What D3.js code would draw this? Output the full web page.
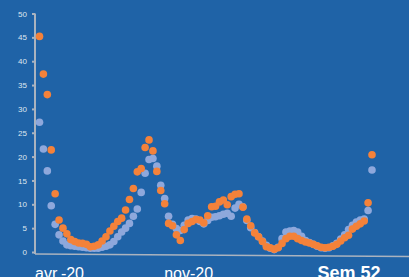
<!DOCTYPE html>
<html>
<head>
<meta charset="utf-8">
<script src="https://cdn.jsdelivr.net/npm/d3@7"></script>
<style>
  html, body { margin: 0; padding: 0; background: #1f63a7; overflow: hidden; }
  svg { display: block; font-family: "Liberation Sans", Arial, sans-serif; }
</style>
</head>
<body>
<div id="chart"></div>
<script>
// weekly values, one point per week
var orangeValues = [45.2, 37.3, 33.0, 21.4, 12.2, 6.7, 5.0, 3.8, 2.6, 2.2,
  1.9, 1.8, 1.6, 1.1, 1.2, 1.5, 2.3, 3.2, 4.4, 5.4,
  6.4, 7.1, 8.8, 11.0, 13.3, 16.8, 17.5, 21.9, 23.5, 21.2,
  16.9, 12.9, 10.1, 6.0, 5.5, 3.6, 2.4, 4.7, 6.0, 6.4,
  6.8, 6.7, 6.1, 7.6, 9.5, 9.6, 10.5, 10.9, 9.9, 11.6,
  12.1, 12.2, 9.4, 6.9, 5.5, 4.0, 3.2, 2.2, 1.1, 0.9,
  0.6, 0.9, 1.8, 2.8, 3.3, 3.3, 2.8, 2.4, 2.1, 1.9,
  1.6, 1.3, 1.0, 0.9, 1.0, 1.2, 1.6, 2.3, 3.0, 3.5,
  4.8, 5.4, 5.9, 6.5, 10.3, 20.4];

var blueValues = [27.2, 21.6, 17.0, 9.7, 5.8, 3.6, 2.3, 1.5, 1.3, 1.2,
  1.1, 1.0, 0.9, 0.8, 0.8, 0.8, 1.0, 1.2, 1.5, 2.2,
  3.2, 4.2, 5.0, 6.0, 7.5, 9.0, 12.5, 16.5, 19.4, 19.6,
  18.0, 14.0, 11.2, 7.5, 5.8, 4.9, 4.5, 5.6, 6.7, 7.0,
  6.9, 6.4, 5.9, 6.6, 7.3, 7.4, 7.6, 7.9, 8.1, 7.5,
  9.2, 10.0, 9.5, 6.6, 5.1, 4.1, 3.2, 2.3, 1.4, 0.8,
  0.5, 1.0, 2.8, 4.2, 4.4, 4.5, 4.2, 3.3, 2.4, 2.0,
  1.6, 1.2, 0.9, 0.8, 0.9, 1.3, 1.8, 2.7, 3.6, 4.7,
  5.6, 6.3, 6.7, 6.9, 8.7, 17.2];

var yTicks = [0, 5, 10, 15, 20, 25, 30, 35, 40, 45, 50];
var xTicks = [5, 38, 79];
var xLabels = ["avr.-20", "nov-20", "Sem 52"];

var width = 409;
var height = 277;

var svg = d3.select("#chart")
  .append("svg")
  .attr("width", width)
  .attr("height", height);

svg.append("rect")
  .attr("width", width)
  .attr("height", height)
  .attr("fill", "#1f63a7");

var xScale = d3.scaleLinear()
  .domain([0, orangeValues.length - 1])
  .range([39.5, 372]);

var yScale = d3.scaleLinear()
  .domain([0, 50])
  .range([252, 13.5]);

// y axis
var yAxis = d3.axisLeft(yScale)
  .tickValues(yTicks)
  .tickSize(3)
  .tickPadding(5);

var gy = svg.append("g")
  .attr("transform", "translate(35,0)")
  .call(yAxis);

gy.select(".domain").remove();
gy.selectAll(".tick line")
  .attr("stroke", "#a9b4c2")
  .attr("stroke-width", 2);
gy.selectAll(".tick text")
  .attr("fill", "#dfe6ef")
  .attr("font-size", 8);

svg.append("line")
  .attr("x1", 35).attr("x2", 35)
  .attr("y1", yScale(50)).attr("y2", 254)
  .attr("stroke", "#aab3bf")
  .attr("stroke-width", 2);

// x axis line (slightly slanted as in the source)
svg.append("line")
  .attr("x1", 35).attr("y1", 254)
  .attr("x2", width).attr("y2", 256.5)
  .attr("stroke", "#aab3bf")
  .attr("stroke-width", 1.5);

var xAxis = d3.axisBottom(xScale)
  .tickValues(xTicks)
  .tickSize(0)
  .tickFormat(function(d, i) { return xLabels[i]; });

var gx = svg.append("g")
  .attr("transform", "translate(0,254)")
  .call(xAxis);

gx.select(".domain").remove();
gx.selectAll(".tick text")
  .attr("fill", "#ffffff")
  .attr("dy", 0)
  .attr("y", 25)
  .attr("font-size", function(d, i) { return i == 2 ? 18 : 16; })
  .attr("font-weight", function(d, i) { return i == 2 ? "bold" : "normal"; });

// dots: blue first, orange on top
svg.append("g")
  .selectAll("circle")
  .data(blueValues)
  .enter()
  .append("circle")
  .attr("cx", function(d, i) { return xScale(i); })
  .attr("cy", function(d) { return yScale(d); })
  .attr("r", 3.8)
  .attr("fill", "#8ea8dc");

svg.append("g")
  .selectAll("circle")
  .data(orangeValues)
  .enter()
  .append("circle")
  .attr("cx", function(d, i) { return xScale(i); })
  .attr("cy", function(d) { return yScale(d); })
  .attr("r", 3.8)
  .attr("fill", "#f4823a");
</script>
</body>
</html>
